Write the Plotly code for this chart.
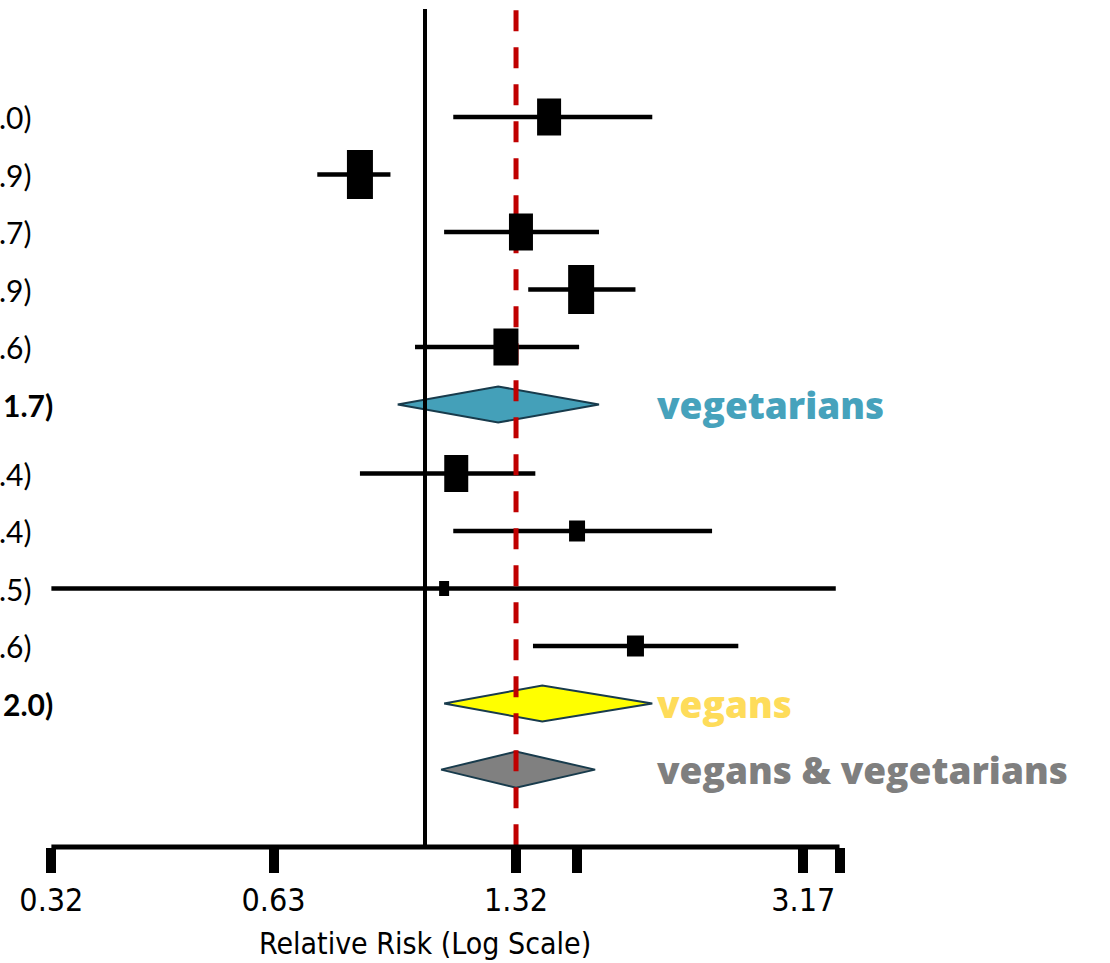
import plotly.graph_objects as go

# Relative risk estimates with 95% confidence limits, top to bottom
veg_est = [1.46, 0.82, 1.34, 1.61, 1.28]
veg_lo = [1.09, 0.72, 1.06, 1.37, 0.97]
veg_hi = [2.0, 0.9, 1.7, 1.9, 1.6]
veg_pooled = [1.25, 0.92, 1.7]          # estimate, lower, upper

vegan_est = [1.10, 1.59, 1.06, 1.90]
vegan_lo = [0.82, 1.09, 0.32, 1.39]
vegan_hi = [1.4, 2.4, 3.5, 2.6]
vegan_pooled = [1.43, 1.06, 2.0]

all_pooled = [1.32, 1.05, 1.68]

group_names = ["vegetarians", "vegans", "vegans & vegetarians"]

tick_vals = [0.32, 0.63, 1.32, 1.59, 3.17, 3.54]
tick_text = ["0.32", "0.63", "1.32", "", "3.17", ""]
null_value = 1.0
x_title = "Relative Risk (Log Scale)"

# ---- layout / style settings ----
W, H = 1110, 963
plot_h = 847
px_per_decade = 755
x_origin_px = 425           # pixel column of RR = 1
px0, step = 117, 57.5       # row slot 0 position and slot spacing in px
row_slots_veg = [0, 1, 2, 3, 4]
slot_veg_pooled = 5
row_slots_vegan = [6.2, 7.2, 8.2, 9.2]
slot_vegan_pooled = 10.2
slot_all_pooled = 11.35
box_veg = [(24, 37), (26, 49), (24, 37), (26, 49), (25, 37)]      # px width, height
box_vegan = [(24, 37), (16, 21), (10, 15), (17, 21)]
diamond_half = 0.313
group_fill = ["#44a0b9", "#ffff00", "#808080"]
group_text = ["#46a2bc", "#fedc5a", "#7f7f7f"]
outline = "#183b4c"
label_font = "Lato, 'Noto Sans', sans-serif"
axis_font = "'Liberation Sans Narrow', 'DejaVu Sans Condensed', 'Noto Sans', sans-serif"
tag_font = "'Open Sans', Lato, sans-serif"


def fmt(v):
    s = f"{v:.2f}"
    return s[:-1] if s.endswith("0") else s


def ci_label(e, lo, hi):
    return f"{fmt(e)} ({fmt(lo)}–{fmt(hi)})"


fig = go.Figure()

# confidence interval whiskers
study_est = veg_est + vegan_est
study_lo = veg_lo + vegan_lo
study_hi = veg_hi + vegan_hi
study_slots = row_slots_veg + row_slots_vegan
ci_x, ci_y = [], []
for lo, hi, s in zip(study_lo, study_hi, study_slots):
    ci_x += [lo, hi, None]
    ci_y += [s, s, None]
fig.add_trace(go.Scatter(x=ci_x, y=ci_y, mode="lines",
                         line=dict(color="black", width=4.5),
                         hoverinfo="skip", showlegend=False))

# pooled diamonds
pooled = [veg_pooled, vegan_pooled, all_pooled]
pooled_slots = [slot_veg_pooled, slot_vegan_pooled, slot_all_pooled]
for (e, lo, hi), s, fill in zip(pooled, pooled_slots, group_fill):
    fig.add_trace(go.Scatter(
        x=[lo, e, hi, e, lo],
        y=[s, s - diamond_half, s, s + diamond_half, s],
        mode="lines", fill="toself", fillcolor=fill,
        line=dict(color=outline, width=2),
        hoverinfo="skip", showlegend=False))

shapes = []
# line of no effect
shapes.append(dict(type="line", xref="x", yref="paper", x0=null_value, x1=null_value,
                   y0=0, y1=0.9894, line=dict(color="black", width=4), layer="above"))
# overall pooled estimate
shapes.append(dict(type="line", xref="x", yref="paper", x0=all_pooled[0], x1=all_pooled[0],
                   y0=0.988, y1=0.0, line=dict(color="#c00000", width=5, dash="21px,16px"),
                   layer="above"))
# x axis baseline
shapes.append(dict(type="line", xref="x", yref="paper", x0=tick_vals[0], x1=tick_vals[-1],
                   y0=0, y1=0, line=dict(color="black", width=5), layer="above"))
# study point estimates, box sized by weight
for e, s, (bw, bh) in zip(study_est, study_slots, box_veg + box_vegan):
    half = 10 ** (bw / 2 / px_per_decade)
    shapes.append(dict(type="rect", xref="x", yref="y",
                       x0=e / half, x1=e * half,
                       ysizemode="pixel", yanchor=s, y0=-bh / 2, y1=bh / 2,
                       fillcolor="black", line=dict(width=0), layer="above"))

annotations = []
# estimate (CI) labels on the left; only their closing digits fall inside the page
for e, lo, hi, s in zip(study_est, study_lo, study_hi, study_slots):
    annotations.append(dict(xref="paper", yref="y", x=34 / W, y=s, xanchor="right",
                            yanchor="middle", showarrow=False,
                            text=ci_label(e, lo, hi)[-3:],
                            font=dict(family=label_font, size=30, color="black")))
for (e, lo, hi), s in zip([veg_pooled, vegan_pooled], [slot_veg_pooled, slot_vegan_pooled]):
    annotations.append(dict(xref="paper", yref="y", x=55 / W, y=s, xanchor="right",
                            yanchor="middle", showarrow=False,
                            text="<b>" + ci_label(e, lo, hi)[-4:] + "</b>",
                            font=dict(family=label_font, size=30, color="black")))
# group tags on the right
for name, s, col in zip(group_names, pooled_slots, group_text):
    annotations.append(dict(xref="paper", yref="y", x=655 / W, y=s, xanchor="left",
                            yanchor="middle", showarrow=False, text=name,
                            font=dict(family=tag_font, size=37, color=col, weight=800)))
# x axis title
annotations.append(dict(xref="paper", yref="paper", x=425 / W, y=(plot_h - 943) / plot_h,
                        xanchor="center", yanchor="middle", showarrow=False, text=x_title,
                        font=dict(family=axis_font, size=30, color="black")))

fig.update_layout(
    width=W, height=H,
    margin=dict(l=0, r=0, t=0, b=H - plot_h, pad=0),
    paper_bgcolor="white", plot_bgcolor="white",
    showlegend=False,
    shapes=shapes, annotations=annotations,
    xaxis=dict(type="log",
               range=[-x_origin_px / px_per_decade, (W - x_origin_px) / px_per_decade],
               tickvals=tick_vals, ticktext=tick_text,
               ticks="outside", ticklen=25, tickwidth=10, tickcolor="black",
               showline=False, showgrid=False, zeroline=False,
               tickfont=dict(family=axis_font, size=32, color="black")),
    yaxis=dict(range=[(plot_h - px0) / step, -px0 / step], visible=False,
               showgrid=False, zeroline=False),
)

fig.write_html("out.html")
